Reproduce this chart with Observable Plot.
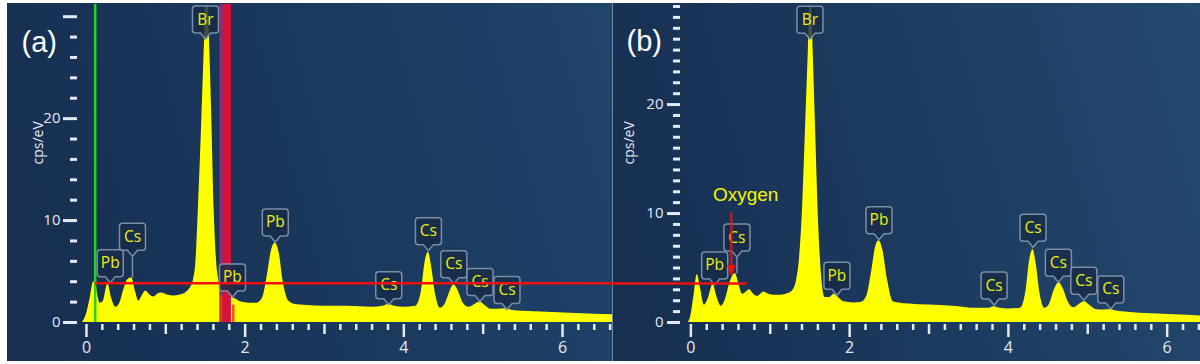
<!DOCTYPE html>
<html>
<head>
<meta charset="utf-8">
<script src="https://cdn.jsdelivr.net/npm/d3@7"></script>
<script src="https://cdn.jsdelivr.net/npm/@observablehq/plot@0.6"></script>
<style>
  html, body { margin: 0; padding: 0; background: #ffffff; }
  body { width: 1200px; height: 364px; position: relative; overflow: hidden; }
  .bg { position: absolute; }
  #bgA { left: 7px; top: 3px; width: 605px; height: 358px;
         background: linear-gradient(75deg, #162e50 0%, #1a375b 45%, #21446b 100%); }
  #bgB { left: 613px; top: 3px; width: 587px; height: 358px;
         background: linear-gradient(75deg, #162e50 0%, #1b385c 40%, #25496f 100%); }
  #divider { left: 612px; top: 3px; width: 1px; height: 358px; background: #6f87a0; }
  #chartA { position: absolute; left: 0; top: 0; }
  #chartB { position: absolute; left: 612px; top: 0; }
</style>
</head>
<body>
<div class="bg" id="bgA"></div>
<div class="bg" id="bgB"></div>
<div class="bg" id="divider"></div>
<div id="chartA"></div>
<div id="chartB"></div>
<script>
// ---------- DATA ----------
// Panel (a) spectrum: energy (keV) and counts (cps/eV)
const energyA = [-0.05,0,0.05,0.09,0.12,0.17,0.21,0.27,0.32,0.37,0.42,0.47,0.52,0.57,0.62,0.66,0.70,0.75,0.80,0.85,0.90,0.95,1.02,1.10,1.18,1.25,1.30,1.35,1.38,1.41,1.45,1.49,1.52,1.55,1.58,1.61,1.64,1.67,1.70,1.76,1.82,1.88,1.95,2.05,2.15,2.22,2.28,2.33,2.38,2.43,2.48,2.55,2.62,2.75,3.0,3.3,3.6,3.74,3.81,3.88,4.0,4.15,4.22,4.27,4.31,4.35,4.40,4.46,4.52,4.58,4.63,4.68,4.75,4.82,4.90,4.96,5.02,5.10,5.20,5.29,5.36,5.50,5.80,6.10,6.40,6.63];
const countsA = [0,0.8,2.5,4.0,3.6,1.9,2.0,3.8,2.3,1.5,1.9,3.2,4.2,4.4,3.0,2.1,2.6,3.1,2.7,2.5,2.8,2.9,2.7,2.6,2.7,2.9,3.3,4.2,6.0,11,19,28,34,28,20,11,6.0,4.0,2.6,2.4,2.5,2.3,2.0,1.9,1.9,2.4,4.6,7.0,7.8,6.8,4.0,2.1,1.8,1.7,1.6,1.6,1.5,1.6,1.8,1.6,1.5,1.6,3.0,6.0,6.9,5.5,2.8,1.4,1.8,3.0,3.7,3.2,1.9,1.5,1.8,2.0,1.7,1.3,1.3,1.35,1.2,1.1,1.0,0.9,0.8,0.75];

// Panel (b) spectrum
const energyB = [-0.03,0,0.04,0.08,0.12,0.17,0.22,0.28,0.33,0.385,0.43,0.50,0.56,0.61,0.65,0.70,0.74,0.79,0.84,0.92,0.98,1.05,1.12,1.20,1.28,1.33,1.37,1.41,1.45,1.48,1.51,1.54,1.57,1.61,1.65,1.69,1.75,1.80,1.86,1.93,2.05,2.15,2.22,2.28,2.33,2.37,2.42,2.48,2.55,2.62,2.75,3.0,3.3,3.6,3.75,3.82,3.9,4.0,4.15,4.22,4.27,4.31,4.35,4.40,4.46,4.52,4.58,4.64,4.69,4.76,4.83,4.90,4.96,5.02,5.10,5.20,5.29,5.36,5.5,5.8,6.1,6.42];
const countsB = [0,0.6,2.5,4.4,3.2,1.6,2.2,3.5,2.3,1.5,2.0,3.8,4.5,3.4,2.6,2.8,3.0,2.6,2.4,2.8,2.6,2.5,2.5,2.6,2.9,3.8,6,11,19,25,31,25,18,9,4,2.3,2.3,2.6,2.3,1.9,1.8,1.85,2.5,4.8,7.0,7.5,6.6,3.8,1.9,1.8,1.7,1.6,1.5,1.3,1.3,1.45,1.3,1.25,1.3,2.8,5.8,6.7,5.4,2.6,1.3,1.7,3.0,3.65,3.1,1.8,1.35,1.7,1.9,1.6,1.2,1.15,1.2,1.05,0.95,0.8,0.7,0.6];

// Peak labels (element, energy, callout tip level, peak height)
const labelElA   = ["Pb","Cs","Br","Pb","Pb","Cs","Cs","Cs","Cs","Cs"];
const labelXA    = [0.30,0.58,1.50,1.84,2.38,3.81,4.31,4.63,4.96,5.30];
const labelTipA  = [3.9,6.5,27.8,2.5,7.9,1.75,7.05,3.8,2.05,1.27];
const labelPeakA = [3.8,4.4,27.8,2.5,7.8,1.8,6.9,3.7,2.0,1.3];

const labelElB   = ["Pb","Cs","Br","Pb","Pb","Cs","Cs","Cs","Cs","Cs"];
const labelXB    = [0.30,0.58,1.50,1.84,2.37,3.82,4.31,4.63,4.95,5.29];
const labelTipB  = [3.45,6.0,26.0,2.5,7.6,1.6,6.9,3.7,2.05,1.25];
const labelPeakB = [3.5,4.5,26.0,2.5,7.5,1.45,6.7,3.65,1.9,1.2];

// Overlay annotations
const greenLineA = 0.11;              // energy of green marker (a)
const bandA = 1.77;                   // energy of crimson marker band (a)
const bandEdgeA = 1.70;
const markerLinesA = [{x: 1.70, h: 2.6}, {x: 1.85, h: 1.7}];
const redLevelA = 3.85, redLevelB = 3.57;   // horizontal red guide (same pixel row in both panels)
const redStartA = 0.11, redEndB = 0.71;
const arrowB = {x: 0.51, from: 10.05, to: 4.27};
const oxygenB = {x: 0.69, y: 11.75, text: "Oxygen"};

// Ticks
const yMajorA = [0, 10, 20, 30];
const yMajorB = [0, 10, 20];
const xMajor = [0, 2, 4, 6];
const xMid = [1, 3, 5];

// ---------- HELPERS ----------
const zip = (xs, ys) => xs.map((x, i) => ({x, y: ys[i]}));
const mkLabels = (els, xs, tips, peaks) => els.map((el, i) => ({el, x: xs[i], y: tips[i], peak: peaks[i]}));
const specA = zip(energyA, countsA);
const specB = zip(energyB, countsB);
const labelsA = mkLabels(labelElA, labelXA, labelTipA, labelPeakA);
const labelsB = mkLabels(labelElB, labelXB, labelTipB, labelPeakB);

const callout = {
  draw(ctx) {
    const w = 13, top = -33, bot = -6, r = 3;
    ctx.moveTo(-w + r, top);
    ctx.lineTo(w - r, top);
    ctx.arcTo(w, top, w, top + r, r);
    ctx.lineTo(w, bot - r);
    ctx.arcTo(w, bot, w - r, bot, r);
    ctx.lineTo(5, bot);
    ctx.lineTo(0, 0);
    ctx.lineTo(-5, bot);
    ctx.lineTo(-w + r, bot);
    ctx.arcTo(-w, bot, -w, bot - r, r);
    ctx.lineTo(-w, top + r);
    ctx.arcTo(-w, top, -w + r, top, r);
    ctx.closePath();
  }
};
const arrowHead = {
  draw(ctx) {
    ctx.moveTo(-4.5, -11);
    ctx.lineTo(4.5, -11);
    ctx.lineTo(0, 0);
    ctx.closePath();
  }
};

const AX = "#e4eaf1";
const YEL = "#ffff00";
const LBL = "#eeee10";
const FONT = "'Open Sans', 'Noto Sans', sans-serif";

function minorTicks(max, step) {
  const out = [];
  for (let v = step; v <= max + 1e-9; v += step) {
    const r = Math.round(v);
    if (Math.abs(v - r) > 1e-6) out.push(+v.toFixed(2));
  }
  return out;
}
function minorY(max, step, majors) {
  const out = [];
  for (let v = 0; v <= max; v += step) if (!majors.includes(v)) out.push(v);
  return out;
}

function labelMarks(labels) {
  return [
    Plot.link(labels.filter(d => d.y - d.peak > 0.5), {x1: "x", x2: "x", y1: "y", y2: "peak", stroke: "#7b8ea6", strokeWidth: 1.5}),
    Plot.dot(labels, {x: "x", y: "y", symbol: callout, r: 5, fill: "#172c48", fillOpacity: 0.82, stroke: "#7b8ea6", strokeWidth: 1.5}),
    Plot.text(labels, {x: "x", y: "y", text: "el", dy: -19.5, fill: LBL, fontSize: 15.5, fontFamily: FONT})
  ];
}

function xAxes(maxX) {
  return [
    Plot.axisX({ticks: xMajor, tickSize: 13, tickPadding: 4, dy: 2, strokeWidth: 2.5, color: AX, fontSize: 16, label: null, tickFormat: d => String(d)}),
    Plot.axisX({ticks: xMid, tickSize: 10, dy: 2, strokeWidth: 2.5, color: AX, tickFormat: () => "", label: null}),
    Plot.axisX({ticks: minorTicks(maxX, 0.2), tickSize: 6, dy: 2, strokeWidth: 2.5, color: AX, tickFormat: () => "", label: null})
  ];
}

// ---------- PANEL (a) ----------
const plotA = Plot.plot({
  width: 612, height: 364,
  marginLeft: 82, marginRight: 0, marginTop: 6, marginBottom: 42,
  style: {background: "transparent", color: AX, fontFamily: FONT, overflow: "visible"},
  x: {domain: [-0.05, 6.63]},
  y: {domain: [0, 31]},
  marks: [
    Plot.areaY(specA, {x: "x", y: "y", fill: YEL, curve: "monotone-x", clip: true}),
    Plot.ruleX([greenLineA], {y1: 0, y2: 31.2, stroke: "#1fd81f", strokeWidth: 2.5}),
    Plot.ruleX([bandEdgeA], {y1: 0, y2: 31.2, stroke: "#8a2e6e", strokeWidth: 4}),
    Plot.ruleX([bandA], {y1: 0, y2: 31.2, stroke: "#d8103c", strokeWidth: 8}),
    Plot.ruleX(markerLinesA, {x: "x", y1: 0, y2: "h", stroke: "#ff3020", strokeOpacity: 0.85, strokeWidth: 2.5}),
    ...labelMarks(labelsA),
    Plot.ruleY([redLevelA], {x1: redStartA, x2: 6.63, stroke: "#ee1111", strokeWidth: 2.5}),
    Plot.axisY({ticks: yMajorA, tickSize: 14, tickPadding: 3, dx: -5, strokeWidth: 3, color: AX, fontSize: 15, label: null,
                tickFormat: d => d === 30 ? "" : String(d)}),
    Plot.axisY({ticks: minorY(30, 2, yMajorA), tickSize: 7, dx: -5, strokeWidth: 3, color: AX, tickFormat: () => "", label: null}),
    ...xAxes(6.6),
    Plot.text(["cps/eV"], {text: d => d, frameAnchor: "left", dx: -44, rotate: -90, fill: AX, fontSize: 14, fontFamily: FONT}),
    Plot.text(["(a)"], {text: d => d, frameAnchor: "top-left", dx: -61, dy: 25, textAnchor: "start", fill: "#ffffff", fontSize: 29, fontFamily: "'Liberation Sans', Arial, sans-serif"})
  ]
});
document.getElementById("chartA").append(plotA);

// ---------- PANEL (b) ----------
const plotB = Plot.plot({
  width: 588, height: 364,
  marginLeft: 76, marginRight: 0, marginTop: 6, marginBottom: 42,
  style: {background: "transparent", color: AX, fontFamily: FONT, overflow: "visible"},
  x: {domain: [-0.03, 6.42]},
  y: {domain: [0, 29]},
  marks: [
    Plot.areaY(specB, {x: "x", y: "y", fill: YEL, curve: "monotone-x", clip: true}),
    ...labelMarks(labelsB),
    Plot.ruleY([redLevelB], {x1: -0.99, x2: redEndB, stroke: "#ee1111", strokeWidth: 2.5}),
    Plot.ruleX([arrowB], {x: "x", y1: "from", y2: "to", stroke: "#ee1111", strokeWidth: 2}),
    Plot.dot([arrowB], {x: "x", y: "to", symbol: arrowHead, r: 5, fill: "#ee1111", stroke: "none"}),
    Plot.text([oxygenB], {x: "x", y: "y", text: "text", fill: "#f5f500", fontSize: 19, fontFamily: "'Liberation Sans', Arial, sans-serif"}),
    Plot.axisY({ticks: yMajorB, tickSize: 13, tickPadding: 4, dx: -8, strokeWidth: 3, color: AX, fontSize: 15, label: null, tickFormat: d => String(d)}),
    Plot.axisY({ticks: minorY(29, 1, yMajorB), tickSize: 7, dx: -8, strokeWidth: 3, color: AX, tickFormat: () => "", label: null}),
    ...xAxes(6.4),
    Plot.text(["cps/eV"], {text: d => d, frameAnchor: "left", dx: -59, rotate: -90, fill: AX, fontSize: 14, fontFamily: FONT}),
    Plot.text(["(b)"], {text: d => d, frameAnchor: "top-left", dx: -62, dy: 24, textAnchor: "start", fill: "#ffffff", fontSize: 29, fontFamily: "'Liberation Sans', Arial, sans-serif"})
  ]
});
document.getElementById("chartB").append(plotB);
</script>
</body>
</html>
